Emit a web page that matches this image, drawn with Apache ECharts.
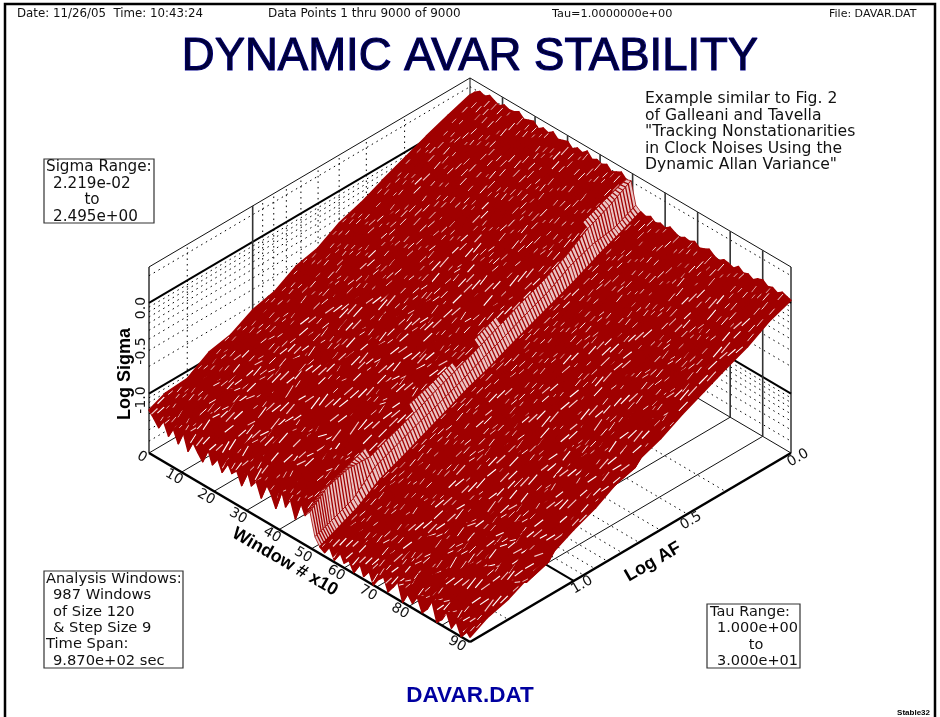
<!DOCTYPE html>
<html><head><meta charset="utf-8">
<style>html,body{margin:0;padding:0;background:#fff}#c{width:940px;height:717px}</style>
<script src="https://cdn.jsdelivr.net/npm/echarts@6/dist/echarts.min.js"></script>
</head><body><div id="c"></div>
<script>
// Log AF sample positions (columns) and window numbers x10 (rows)
const logAF = [0,.1,.2,.3,.4,.5,.6,.7,.8,.9,1,1.1,1.2,1.3,1.4,1.477];
const windowNo = [0,1.5,3,4.5,6,7.5,9,10.5,12,13.5,15,16.5,18,19.5,21,22.5,24,25.5,27,28.5,30,31.5,33,34.5,36,37.5,39,40.5,42,43.5,45,46.5,48,49.5,51,52.5,54,55.5,57,58.5,60,61.5,63,64.5,66,67.5,69,70.5,72,73.5,75,76.5,78,79.5,81,82.5,84,85.5,87,88.5,90,91.5,93,94.5,96,97.5,98.7];
// Log Sigma x100: one row per window, one column per Log AF
const logSigmaX100 = [
[21,13,4,-6,-16,-27,-35,-49,-55,-69,-75,-88,-93,-108,-110,-118],
[27,17,6,-2,-15,-23,-38,-45,-59,-64,-79,-83,-99,-101,-119,-124],
[31,20,9,-5,-12,-27,-34,-49,-54,-70,-73,-90,-92,-109,-111,-131],
[29,18,10,-1,-17,-24,-39,-44,-60,-65,-81,-84,-101,-100,-120,-121],
[33,21,7,-4,-13,-26,-33,-50,-56,-63,-78,-89,-90,-110,-113,-134],
[30,19,11,-2,-11,-29,-37,-46,-52,-72,-72,-85,-103,-98,-122,-123],
[28,16,8,-6,-16,-22,-40,-43,-61,-61,-83,-80,-97,-112,-108,-136],
[32,22,6,-3,-14,-25,-32,-52,-53,-68,-74,-93,-88,-104,-124,-120],
[30,18,9,0,-18,-28,-35,-44,-62,-66,-70,-87,-105,-96,-116,-138],
[31,20,7,-4,-12,-21,-41,-48,-51,-73,-80,-82,-94,-113,-106,-125],
[34,19,10,-1,-15,-27,-31,-47,-58,-60,-77,-95,-89,-102,-126,-133],
[29,17,6,-5,-13,-24,-38,-42,-63,-69,-71,-84,-106,-99,-112,-140],
[31,21,9,-2,-19,-26,-34,-51,-54,-64,-85,-79,-91,-115,-118,-122],
[33,18,8,-4,-11,-29,-37,-45,-59,-74,-68,-92,-100,-97,-128,-137],
[28,20,11,-3,-16,-20,-42,-48,-50,-62,-82,-86,-87,-111,-105,-126],
[32,19,5,-6,-14,-27,-30,-53,-60,-71,-75,-78,-107,-103,-123,-139],
[30,23,9,-1,-17,-25,-39,-41,-55,-67,-84,-94,-93,-95,-117,-124],
[34,17,7,0,-10,-30,-35,-49,-64,-59,-73,-81,-98,-116,-109,-134],
[29,20,12,-5,-15,-22,-33,-46,-52,-75,-78,-88,-86,-104,-127,-128],
[31,18,6,-3,-18,-28,-43,-43,-58,-65,-69,-96,-102,-100,-113,-141],
[33,21,8,-7,-12,-23,-36,-54,-49,-70,-87,-77,-95,-118,-119,-119],
[28,16,10,-1,-16,-31,-29,-45,-65,-63,-76,-91,-108,-94,-107,-135],
[32,22,7,-4,-9,-25,-41,-40,-56,-76,-72,-83,-89,-114,-129,-127],
[30,19,5,-2,-19,-21,-34,-55,-53,-61,-88,-90,-104,-99,-110,-142],
[35,18,9,-6,-13,-28,-38,-47,-66,-68,-74,-80,-85,-117,-121,-123],
[29,20,11,0,-15,-24,-32,-42,-50,-72,-83,-97,-101,-92,-115,-131],
[32,23,6,-4,-20,-26,-44,-50,-59,-58,-79,-85,-109,-112,-104,-144],
[30,17,8,-3,-11,-32,-36,-44,-62,-77,-70,-93,-90,-106,-130,-117],
[33,19,12,-5,-17,-20,-28,-56,-51,-66,-89,-76,-99,-119,-111,-136],
[28,21,4,-1,-14,-27,-42,-39,-67,-64,-73,-98,-107,-96,-125,-125],
[31,18,9,-8,-8,-24,-37,-51,-54,-78,-81,-82,-88,-113,-103,-143],
[34,22,7,-2,-18,-33,-31,-48,-60,-57,-86,-92,-103,-101,-122,-120],
[29,20,10,-5,-18,-27,-38,-49,-60,-70,-78,-88,-98,-108,-116,-133],
[31,17,6,-10,-22,-32,-43,-54,-64,-74,-85,-94,-104,-103,-110,-126],
[7,-4,-8,-17,-31,-41,-52,-62,-73,-83,-92,-102,-112,-133,-143,-150],
[3,-8,-18,-30,-40,-50,-60,-71,-80,-91,-102,-113,-123,-139,-150,-158],
[1,-10,-19,-28,-38,-49,-61,-70,-82,-92,-104,-115,-126,-135,-146,-161],
[4,-6,-21,-33,-42,-51,-64,-76,-83,-99,-103,-122,-124,-142,-144,-152],
[0,-9,-17,-29,-39,-55,-60,-72,-89,-93,-112,-115,-134,-131,-153,-163],
[3,-11,-20,-27,-44,-50,-67,-71,-82,-101,-104,-124,-122,-144,-142,-149],
[1,-7,-22,-32,-38,-54,-62,-79,-86,-90,-113,-113,-133,-134,-155,-160],
[5,-9,-16,-30,-43,-49,-65,-70,-88,-98,-102,-121,-127,-143,-146,-154],
[2,-5,-20,-26,-41,-56,-59,-77,-81,-97,-110,-116,-136,-129,-151,-164],
[0,-10,-18,-34,-36,-51,-66,-73,-90,-92,-105,-125,-120,-146,-140,-147],
[3,-8,-23,-28,-45,-47,-61,-78,-84,-103,-100,-114,-131,-137,-156,-162],
[2,-6,-17,-31,-40,-57,-63,-69,-87,-94,-115,-119,-125,-132,-148,-151],
[5,-11,-19,-29,-37,-50,-68,-75,-80,-100,-108,-126,-135,-141,-143,-165],
[1,-7,-21,-25,-44,-53,-58,-80,-91,-91,-103,-112,-129,-145,-157,-156],
[3,-9,-15,-33,-39,-48,-64,-72,-85,-105,-109,-123,-119,-133,-147,-148],
[6,-5,-20,-30,-46,-55,-62,-67,-83,-96,-116,-117,-137,-128,-152,-163],
[2,-10,-24,-27,-35,-52,-69,-76,-89,-89,-101,-127,-124,-147,-139,-155],
[0,-8,-18,-35,-42,-46,-60,-81,-82,-102,-111,-111,-132,-136,-158,-146],
[4,-6,-16,-28,-47,-54,-65,-68,-92,-94,-106,-128,-118,-142,-145,-165],
[3,-12,-22,-31,-37,-58,-57,-74,-78,-106,-114,-120,-138,-130,-154,-153],
[1,-7,-19,-26,-43,-49,-70,-78,-87,-88,-99,-118,-126,-148,-141,-160],
[6,-9,-21,-34,-36,-53,-63,-66,-93,-100,-117,-113,-133,-127,-159,-150],
[2,-4,-17,-29,-48,-45,-59,-82,-79,-95,-107,-129,-121,-146,-149,-164],
[4,-10,-25,-27,-40,-59,-66,-71,-91,-104,-102,-122,-139,-135,-138,-157],
[1,-8,-15,-36,-34,-50,-61,-83,-84,-87,-118,-112,-128,-149,-155,-145],
[5,-6,-20,-30,-45,-47,-71,-73,-94,-101,-105,-130,-117,-140,-151,-165],
[7,-11,-23,-24,-39,-56,-56,-79,-77,-107,-112,-116,-140,-126,-144,-159],
[3,-5,-18,-33,-35,-52,-64,-65,-90,-93,-119,-125,-123,-150,-160,-148],
[5,-8,-14,-28,-46,-44,-68,-84,-86,-86,-100,-131,-134,-134,-137,-162],
[2,-12,-22,-37,-41,-60,-55,-72,-95,-108,-113,-111,-127,-151,-153,-152],
[6,-7,-19,-25,-33,-48,-72,-77,-76,-97,-120,-124,-116,-139,-161,-165],
[4,-9,-24,-31,-44,-54,-60,-85,-92,-91,-104,-133,-141,-125,-146,-155],
[3,-6,-20,-30,-41,-52,-65,-74,-85,-99,-109,-121,-131,-143,-150,-160]
];
// Axis ticks and labels
const windowTicks = [10,20,30,40,50,60,70,80,90];
const windowLabels = ['0','10','20','30','40','50','60','70','80','90'];
const afMajor = [1];
const afMinor = [.301,.477,.602,.699,.778,.845,.903,.954,1.301];
const afLabels = ['0.0','0.5','1.0'];
const zMajor = [-1,0];
const zMinor = [-1.523,-1.398,-1.301,-1.222,-1.155,-1.097,-1.046,-.699,-.523,-.398,-.301,-.222,-.155,-.097,-.046,.301];
const zLabels = ['0.0','-0.5','-1.0'];
const sigmaBox = ['Sigma Range:','2.219e-02','to','2.495e+00'];
const windowBox = ['Analysis Windows:','987 Windows','of Size 120','& Step Size 9','Time Span:','9.870e+02 sec'];
const tauBox = ['Tau Range:','1.000e+00','to','3.000e+01'];
const noteLines = ['Example similar to Fig. 2','of Galleani and Tavella','"Tracking Nonstationarities','in Clock Noises Using the','Dynamic Allan Variance"'];

const W=98.7, AF=1.477, Z0=-1.654, Z1=0.397;
function proj(w,af,z){
  const a=w/W, b=(AF-af)/AF;
  return [149+321*a+321*b, 453+189*a-189*b-(z-Z0)*90.7];
}
const RED='#a00000', FONT='"DejaVu Sans"';
const segs=[];
function seg(p,q,t){segs.push({value:[0,0],p:p,q:q,t:t});}
const D='d',T='t',S='s',V='v';
seg([0,AF,Z0],[0,AF,Z1],'g');seg([W,0,Z0],[W,0,Z1],'g');
seg([0,AF,Z1],[0,0,Z1],S);seg([0,0,Z1],[W,0,Z1],S);seg([0,0,Z0],[0,0,Z1],S);
seg([0,AF,Z0],[0,0,Z0],S);seg([0,0,Z0],[W,0,Z0],S);
zMinor.forEach(z=>{seg([0,AF,z],[0,0,z],D);seg([0,0,z],[W,0,z],D);});
zMajor.forEach(z=>{seg([0,AF,z],[0,0,z],T);seg([0,0,z],[W,0,z],T);});
afMinor.forEach(a=>{seg([0,a,Z0],[0,a,Z1],D);seg([0,a,Z0],[W,a,Z0],D);});
afMajor.forEach(a=>{seg([0,a,Z0],[0,a,Z1],V);seg([0,a,Z0],[W,a,Z0],T);});
windowTicks.forEach(w=>{seg([w,0,Z0],[w,0,Z1],V);seg([w,AF,Z0],[w,0,Z0],S);});
seg([0,AF,Z0],[W,AF,Z0],'a');seg([W,AF,Z0],[W,0,Z0],'a');

const cells=[];
for(let r=0;r<windowNo.length-1;r++)for(let c=0;c<logAF.length-1;c++)cells.push({value:[r,c]});
const Zv=(r,c)=>logSigmaX100[r][c]/100;

const styleOf={
 d:{stroke:'#000',lineWidth:1,lineDash:[1.5,4]},
 s:{stroke:'#111',lineWidth:1},
 t:{stroke:'#000',lineWidth:2},
 v:{stroke:'#333',lineWidth:1.6},
 g:{stroke:'#666',lineWidth:2},
 a:{stroke:'#000',lineWidth:2.6}
};
const gfx=[];
function txt(text,x,y,o){
  o=o||{};
  gfx.push({type:'text',x:x,y:y,rotation:(o.rot||0)*Math.PI/180,z:50,silent:true,
    style:{text:text,font:(o.w||'normal')+' '+(o.s||15)+'px '+(o.f||FONT),fill:o.c||'#111',
      textAlign:o.a||'left',textVerticalAlign:'middle',stroke:o.st,lineWidth:o.lw||0}});
}
function box(x0,y0,x1,y1){
  gfx.push({type:'rect',z:49,silent:true,shape:{x:x0,y:y0,width:x1-x0,height:y1-y0},
    style:{fill:'#fff',stroke:'#333',lineWidth:1.2}});
}
gfx.push({type:'rect',z:48,silent:true,shape:{x:5,y:4,width:930,height:730},style:{fill:'none',stroke:'#000',lineWidth:2.5}});
txt('Date: 11/26/05  Time: 10:43:24',17,14,{s:11.8});
txt('Data Points 1 thru 9000 of 9000',268,14,{s:12});
txt('Tau=1.0000000e+00',552,14,{s:11.3});
txt('File: DAVAR.DAT',829,14,{s:11});
txt('DYNAMIC AVAR STABILITY',470,57,{s:45.5,f:'"Liberation Sans"',a:'center',c:'#00003c',st:'#000090',lw:1.2});
noteLines.forEach((t,i)=>txt(t,645,99+i*16.5,{s:15.6}));
box(44,159,154,223);
txt(sigmaBox[0],46,167,{s:15.2});txt(sigmaBox[1],53,184,{s:15.2});txt(sigmaBox[2],92,200,{s:15.2,a:'center'});txt(sigmaBox[3],53,217,{s:15.2});
box(44,571,183,668);
windowBox.forEach((t,i)=>txt(t,(i==0||i==4)?46:53,579+i*16.4,{s:14.7}));
box(707,604,800,668);
txt(tauBox[0],710,612,{s:14.5});txt(tauBox[1],717,628,{s:14.5});txt(tauBox[2],756,645,{s:14.5,a:'center'});txt(tauBox[3],717,661,{s:14.5});
txt('DAVAR.DAT',470,696,{s:22.5,w:'bold',f:'"Liberation Sans"',a:'center',c:'#0000a0'});
txt('Stable32',930,713,{s:8,w:'bold',f:'"Liberation Sans"',a:'right',c:'#000'});
const wPos=[[142,457],[174,477],[206,497],[238,516],[272,535],[303,555],[336,573],[368,593],[400,611],[457,644]];
windowLabels.forEach((t,i)=>txt(t,wPos[i][0],wPos[i][1],{s:14,a:'center',rot:-30}));
const aPos=[[798,458],[691,521],[582,585]];
afLabels.forEach((t,i)=>txt(t,aPos[i][0],aPos[i][1],{s:14,a:'center',rot:30}));
const zPos=[308,351,400];
zLabels.forEach((t,i)=>txt(t,141,zPos[i],{s:14,a:'center',rot:90}));
txt('Window # x10',285,562,{s:18,w:'bold',f:'"Liberation Sans"',a:'center',c:'#000',rot:-30});
txt('Log AF',653,562,{s:18,w:'bold',f:'"Liberation Sans"',a:'center',c:'#000',rot:30});
txt('Log Sigma',125,374,{s:18,w:'bold',f:'"Liberation Sans"',a:'center',c:'#000',rot:90});

// how far the surface falls over the rows around a cell: the step face of the surface
function fall(r,c){
  const a=Math.max(r-1,0), b=Math.min(r+2,windowNo.length-1);
  return (Zv(a,c)+Zv(a,c+1)-Zv(b,c)-Zv(b,c+1))/2;
}
function lerp(p,q,t){return [p[0]+(q[0]-p[0])*t,p[1]+(q[1]-p[1])*t];}
function inCell(pts,s,t){return lerp(lerp(pts[0],pts[3],s),lerp(pts[1],pts[2],s),t);}
function lineEl(p,q,stroke,w){
  return {type:'line',shape:{x1:p[0],y1:p[1],x2:q[0],y2:q[1]},style:{stroke:stroke,lineWidth:w,fill:null}};
}
const chart=echarts.init(document.getElementById('c'),null,{renderer:'canvas'});
chart.setOption({
 animation:false,backgroundColor:'#fff',
 grid:{left:0,right:0,top:0,bottom:0},
 xAxis:{type:'value',min:0,max:940,show:false},
 yAxis:{type:'value',min:0,max:717,inverse:true,show:false},
 graphic:{elements:gfx},
 series:[
 {type:'custom',silent:true,z:2,clip:false,data:segs,progressive:0,
  renderItem:(p,api)=>{
   const s=segs[p.dataIndex],a=api.coord(proj(...s.p)),b=api.coord(proj(...s.q));
   return {type:'line',shape:{x1:a[0],y1:a[1],x2:b[0],y2:b[1]},style:Object.assign({fill:null},styleOf[s.t])};
  }},
 {type:'custom',silent:true,z:3,clip:false,data:cells,progressive:0,
  renderItem:(p,api)=>{
   const [r,c]=cells[p.dataIndex].value;
   const pts=[[r,c],[r,c+1],[r+1,c+1],[r+1,c]].map(q=>api.coord(proj(windowNo[q[0]],logAF[q[1]],Zv(q[0],q[1]))));
   const kids=[];
   const isStep=fall(r,c)>=.16;
   kids.push({type:'polygon',shape:{points:pts},style:{fill:isStep?'#eac4c4':RED,stroke:RED,lineWidth:isStep?.8:1.6,lineJoin:'round'}});
   if(isStep){
     for(let k=1;k<8;k++) kids.push(lineEl(lerp(pts[0],pts[1],k/8),lerp(pts[3],pts[2],k/8),RED,1.3));
   } else {
     const m1=lerp(pts[0],pts[3],.5), m2=lerp(pts[1],pts[2],.5);
     const dx=m2[0]-m1[0], dy=m2[1]-m1[1], L=Math.hypot(dx,dy)||1;
     const e0=lerp(pts[3],pts[2],.5), e1=lerp(pts[0],pts[1],.5);
     const d=Math.abs((e0[0]-e1[0])*dy-(e0[1]-e1[1])*dx)/L;
     const ex=d-4;
     if(ex>0){
       const n=ex>3?3:ex>1.2?2:1;
       for(let j=0;j<n;j++){
         const h=Math.min(.2,.05+ex*.025), o=.14+(((r*7+c*3+j*5)%8))*.1;
         const s=(j+.5)/n;
         const col=(r+c+j)%3==0?'#f2cccc':'#fff';
         kids.push(lineEl(inCell(pts,s,Math.max(0,o-h)),inCell(pts,s,Math.min(1,o+h)),col,Math.min(1.15,.65+ex*.08)));
       }
     }
   }
   return {type:'group',children:kids};
  }}
 ]
});
</script></body></html>
